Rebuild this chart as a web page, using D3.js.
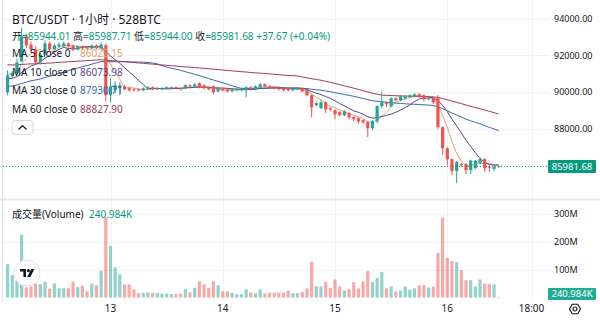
<!DOCTYPE html>
<html>
<head>
<meta charset="utf-8">
<script src="https://cdn.jsdelivr.net/npm/d3@7"></script>
<style>
  body { margin: 0; background: #fff; }
  svg { display: block; }
  text { font-family: "Noto Sans", "Noto Sans CJK SC", sans-serif; }
</style>
</head>
<body>
<svg id="chart" width="600" height="329"></svg>
<script>
// BTC/USDT hourly candles, hour offsets counted from the 13th 00:00
const hours = d3.range(-22, 84);

const opens = [
  90000, 90870, 91030, 91680, 93030, 92590, 92320, 91620, 92050, 92650, 92320, 92490, 92490, 92650, 92540, 92320, 92490, 92430, 92380, 92540, 92380, 92540,
  89840, 90110, 90220, 90320, 90220, 90160, 90160, 90110, 90160, 90270, 90160, 90160, 90220, 90220, 90270, 90220, 90220, 90380, 90320, 90490, 90380, 90270, 90320, 90050,
  90220, 90160, 90050, 90110, 90110, 90110, 90270, 90160, 90270, 90430, 90320, 90270, 90270, 90220, 90220, 90110, 90160, 90220, 90110, 89840, 89300, 89140, 89460, 89140,
  89030, 88920, 88760, 88870, 88650, 88590, 88490, 88380, 88050, 88430, 89250, 89460, 89240, 89680, 89570, 89680, 89730, 89780, 89890, 89840, 89620, 89680, 89680, 88110,
  86970, 86370, 85730, 86110, 86110, 85780, 85890, 86160, 86380, 85960, 85840, 85944.01
];
const highs = [
  91190, 91140, 91840, 93510, 93190, 92760, 92490, 92160, 92810, 92760, 92650, 92700, 92760, 92700, 92590, 92540, 92540, 92490, 92590, 92590, 92700, 92650,
  90760, 90600, 90540, 90380, 90270, 90220, 90220, 90270, 90320, 90320, 90270, 90270, 90320, 90320, 90320, 90270, 90430, 90430, 90490, 90540, 90430, 90320, 90380, 90270,
  90270, 90220, 90220, 90220, 90270, 90320, 90320, 90380, 90490, 90490, 90380, 90320, 90320, 90270, 90270, 90270, 90270, 90270, 90160, 89890, 89510, 89570, 89510, 89190,
  89080, 88970, 89030, 88920, 88700, 88650, 88540, 88430, 88490, 89300, 90050, 89510, 89730, 89730, 89830, 89840, 89890, 89950, 89950, 89890, 89730, 89730, 89840, 88160,
  87030, 86430, 86270, 86160, 86160, 86350, 86330, 86490, 86430, 86050, 86050, 85987.71
];
const lows = [
  89840, 90760, 90920, 91620, 92380, 92220, 91510, 91510, 92000, 92220, 92270, 92430, 92430, 92430, 92220, 92270, 92320, 92270, 92320, 92320, 92320, 89510,
  89460, 89950, 89840, 90110, 90050, 90050, 90050, 90050, 90110, 90110, 90110, 90110, 90160, 90160, 90160, 90110, 90160, 90270, 90270, 90220, 90160, 90110, 89890, 90000,
  90050, 90000, 90000, 90050, 90050, 89730, 90110, 90110, 90220, 90270, 90220, 90160, 90110, 90050, 90050, 90050, 90110, 90000, 89780, 88650, 89240, 89080, 88870, 88970,
  88540, 88700, 88700, 88540, 88430, 88320, 88270, 87570, 87950, 88320, 89140, 89190, 89190, 89510, 89510, 89620, 89680, 89730, 89680, 89510, 89570, 89350, 88000, 86590,
  86050, 85510, 85080, 85950, 85570, 85570, 85840, 86110, 85680, 85680, 85730, 85944.00
];
const closes = [
  90920, 91030, 91620, 93030, 92540, 92320, 91620, 92050, 92650, 92320, 92540, 92590, 92650, 92490, 92320, 92490, 92380, 92380, 92540, 92380, 92590, 89840,
  90320, 90380, 90380, 90160, 90110, 90110, 90110, 90220, 90270, 90160, 90220, 90220, 90270, 90270, 90220, 90160, 90380, 90320, 90430, 90270, 90220, 90160, 90000, 90220,
  90110, 90050, 90160, 90160, 90220, 90270, 90160, 90320, 90430, 90320, 90270, 90220, 90160, 90110, 90110, 90220, 90220, 90050, 89840, 89190, 89410, 89460, 89080, 89070,
  88810, 88760, 88970, 88640, 88540, 88420, 88380, 88050, 88430, 89250, 89460, 89350, 89680, 89570, 89780, 89780, 89840, 89890, 89780, 89620, 89680, 89460, 88110, 86970,
  86370, 85730, 86220, 86050, 85780, 86300, 86280, 86380, 85880, 85920, 85950, 85981.68
];
// volume per hour, millions
const volumes = [
  120, 80, 60, 225, 36, 40, 50, 48, 56, 32, 50, 33, 33, 33, 58, 37, 42, 22, 50, 44, 96, 287,
  185, 108, 83, 47, 47, 29, 16, 17, 18, 16, 16, 14, 14, 12, 12, 14, 30, 18, 35, 58, 47, 35, 58, 44,
  22, 22, 17, 12, 12, 29, 18, 15, 29, 15, 17, 17, 17, 17, 25, 15, 15, 19, 33, 128, 40, 40, 56, 35,
  65, 40, 25, 29, 55, 33, 58, 95, 55, 70, 92, 33, 40, 22, 25, 40, 28, 33, 44, 44, 36, 40, 160, 287,
  142, 131, 127, 98, 62, 62, 40, 65, 50, 48, 47, 0.240984
];

// moving averages: period, colour, legend value, mean close before the first bar
const maPeriods = [5, 10, 30, 60];
const maColors = ["#e3a66f", "#54468f", "#3b68b0", "#a3375f"];
const maLegend = ["86022.15", "86073.98", "87930.71", "88827.90"];
const maSeeds = [91000, 90700, 90300, 91500];

const priceTicks = [86000, 88000, 90000, 92000, 94000];
const priceTickLabels = ["", "88000.00", "90000.00", "92000.00", "94000.00"];
const volTicks = [100, 200, 300];
const volTickLabels = ["100M", "200M", "300M"];
const timeTicks = [0, 24, 48, 72, 90];
const timeTickLabels = ["13", "14", "15", "16", "18:00"];

const lastPrice = 85981.68;
const lastPriceLabel = "85981.68";
const lastVolLabel = "240.984K";

const UP = "#26a69a", DOWN = "#ef5350";
const UP_VOL = "rgba(38,166,154,0.5)", DOWN_VOL = "rgba(239,83,80,0.5)";
const GRID = "#f0f2f5", TEXT = "#131722", VALUE = "#089981";

const svg = d3.select("#chart");
const plotLeft = 3, plotRight = 550;

const x = d3.scaleLinear().domain([0, 90]).range([110.5, 531.5]);
const y = d3.scaleLinear().domain([88000, 94000]).range([129.2, 18.5]);
const yv = d3.scaleLinear().domain([0, 300]).range([297.5, 214]);

const bars = hours.map((h, i) => ({
  h, o: opens[i], hi: highs[i], lo: lows[i], c: closes[i], v: volumes[i]
}));

// grid
const grid = svg.append("g").attr("stroke", GRID).attr("stroke-width", 1);
grid.selectAll(".hp").data(priceTicks).join("line")
  .attr("x1", plotLeft).attr("x2", plotRight)
  .attr("y1", d => Math.round(y(d)) + 0.5).attr("y2", d => Math.round(y(d)) + 0.5);
grid.selectAll(".hv").data(volTicks).join("line")
  .attr("x1", plotLeft).attr("x2", plotRight)
  .attr("y1", d => Math.round(yv(d)) + 0.5).attr("y2", d => Math.round(yv(d)) + 0.5);
grid.selectAll(".vt").data(timeTicks).join("line")
  .attr("x1", d => Math.round(x(d)) + 0.5).attr("x2", d => Math.round(x(d)) + 0.5)
  .attr("y1", 0).attr("y2", 300);

// frame lines
svg.append("line").attr("x1", 2.5).attr("x2", 2.5).attr("y1", 0).attr("y2", 302)
  .attr("stroke", "#e0e3eb");
svg.append("rect").attr("x", 0).attr("y", 198.5).attr("width", 600).attr("height", 2)
  .attr("fill", "#e6e8ed");

// volume bars
svg.append("g").selectAll("rect").data(bars).join("rect")
  .attr("x", d => x(d.h) - 1.6)
  .attr("width", 3.2)
  .attr("y", d => yv(d.v))
  .attr("height", d => Math.max(0.6, yv(0) - yv(d.v)))
  .attr("fill", d => d.c >= d.o ? UP_VOL : DOWN_VOL);

// moving averages
function movingAverage(period, seed) {
  return closes.map((_, i) => {
    let s = 0;
    for (let j = i - period + 1; j <= i; j++) s += j < 0 ? seed : closes[j];
    return s / period;
  });
}
const line = d3.line().x((d, i) => x(hours[i])).y(d => y(d));
maPeriods.forEach((p, k) => {
  svg.append("path")
    .attr("d", line(movingAverage(p, maSeeds[k])))
    .attr("fill", "none")
    .attr("stroke", maColors[k])
    .attr("stroke-width", 1);
});

// candles
const candles = svg.append("g");
candles.selectAll("line").data(bars).join("line")
  .attr("x1", d => x(d.h)).attr("x2", d => x(d.h))
  .attr("y1", d => y(d.hi)).attr("y2", d => y(d.lo))
  .attr("stroke", d => d.c >= d.o ? UP : DOWN)
  .attr("stroke-width", 1);
candles.selectAll("rect").data(bars).join("rect")
  .attr("x", d => x(d.h) - 1.6)
  .attr("width", 3.2)
  .attr("y", d => y(Math.max(d.o, d.c)))
  .attr("height", d => Math.max(1, Math.abs(y(d.o) - y(d.c))))
  .attr("fill", d => d.c >= d.o ? UP : DOWN);

// last price line
svg.append("line")
  .attr("x1", plotLeft).attr("x2", 548)
  .attr("y1", y(lastPrice)).attr("y2", y(lastPrice))
  .attr("stroke", VALUE).attr("stroke-width", 1)
  .attr("stroke-dasharray", "1,2");

// price scale labels
svg.append("g").selectAll("text").data(priceTicks).join("text")
  .attr("x", 554).attr("y", d => y(d))
  .attr("dy", "0.35em")
  .attr("font-size", 9)
  .attr("fill", TEXT)
  .text((d, i) => priceTickLabels[i]);
svg.append("g").selectAll("text").data(volTicks).join("text")
  .attr("x", 554).attr("y", d => yv(d))
  .attr("dy", "0.35em")
  .attr("font-size", 9)
  .attr("fill", TEXT)
  .text((d, i) => volTickLabels[i]);

// last price badge
const py = y(lastPrice);
svg.append("rect").attr("x", 548).attr("y", py - 6.5).attr("width", 48).attr("height", 13)
  .attr("fill", VALUE).attr("rx", 1);
svg.append("text").attr("x", 572).attr("y", py).attr("dy", "0.35em")
  .attr("text-anchor", "middle").attr("font-size", 9.5).attr("fill", "#fff")
  .text(lastPriceLabel);

// volume badge
svg.append("rect").attr("x", 548).attr("y", 288).attr("width", 48).attr("height", 12)
  .attr("fill", "#22ab94").attr("rx", 1);
svg.append("text").attr("x", 572).attr("y", 294).attr("dy", "0.35em")
  .attr("text-anchor", "middle").attr("font-size", 9.5).attr("fill", "#fff")
  .text(lastVolLabel);

// time axis
svg.append("g").selectAll("text").data(timeTicks).join("text")
  .attr("x", d => x(d)).attr("y", 312)
  .attr("text-anchor", "middle").attr("font-size", 10).attr("fill", TEXT)
  .text((d, i) => timeTickLabels[i]);

// settings gear
const gear = svg.append("g").attr("transform", "translate(575,309)")
  .attr("fill", "none").attr("stroke", TEXT).attr("stroke-width", 1.2);
gear.append("path")
  .attr("d", d3.range(6).map(k => {
    const a = Math.PI / 3 * k;
    return (k ? "L" : "M") + (5.5 * Math.cos(a)).toFixed(2) + "," + (5.5 * Math.sin(a)).toFixed(2);
  }).join("") + "Z")
  .attr("stroke-linejoin", "round");
gear.append("circle").attr("r", 2);

// header
svg.append("text").attr("x", 12).attr("y", 24).attr("font-size", 12).attr("fill", TEXT)
  .text("BTC/USDT · 1小时 · 528BTC");

// OHLC readout as one flowing line
const ohlcParts = [
  { t: "开", c: TEXT }, { t: "=85944.01 ", c: VALUE },
  { t: "高", c: TEXT }, { t: "=85987.71 ", c: VALUE },
  { t: "低", c: TEXT }, { t: "=85944.00 ", c: VALUE },
  { t: "收", c: TEXT }, { t: "=85981.68 ", c: VALUE },
  { t: "+37.67 (+0.04%)", c: VALUE }
];
svg.append("text").attr("x", 12).attr("y", 40).attr("font-size", 10)
  .attr("xml:space", "preserve").style("white-space", "pre")
  .selectAll("tspan").data(ohlcParts).join("tspan")
  .attr("fill", d => d.c).text(d => d.t);

// moving average legend
const legendY = [57, 76, 94, 113];
maPeriods.forEach((p, k) => {
  svg.append("text").attr("x", 12).attr("y", legendY[k]).attr("font-size", 10)
    .attr("fill", TEXT).text(`MA ${p} close 0`);
  svg.append("text").attr("x", 80).attr("y", legendY[k]).attr("font-size", 10)
    .attr("fill", maColors[k]).text(maLegend[k]);
});

// collapse button
svg.append("rect").attr("x", 12).attr("y", 120.5).attr("width", 21).attr("height", 14)
  .attr("rx", 3).attr("fill", "#fff").attr("stroke", "#d6d9e0");
svg.append("path").attr("d", "M18.5,129.5L22.5,125.5L26.5,129.5")
  .attr("fill", "none").attr("stroke", TEXT).attr("stroke-width", 1.2);

// volume legend
svg.append("text").attr("x", 12).attr("y", 218).attr("font-size", 10).attr("fill", TEXT)
  .text("成交量(Volume)");
svg.append("text").attr("x", 89).attr("y", 218).attr("font-size", 10).attr("fill", VALUE)
  .text(lastVolLabel);

// logo badge
const logo = svg.append("g").attr("transform", "translate(27,273)");
logo.append("circle").attr("r", 13).attr("fill", "#fff").attr("stroke", "#e3e5ea");
logo.append("path").attr("d", "M-7,-4H-1V4H-3.6V-1.6H-7Z").attr("fill", TEXT);
logo.append("circle").attr("cx", 1.4).attr("cy", -2.4).attr("r", 1.6).attr("fill", TEXT);
logo.append("path").attr("d", "M4.2,-4H7.4L3.4,4H0.2Z").attr("fill", TEXT);
</script>
</body>
</html>
